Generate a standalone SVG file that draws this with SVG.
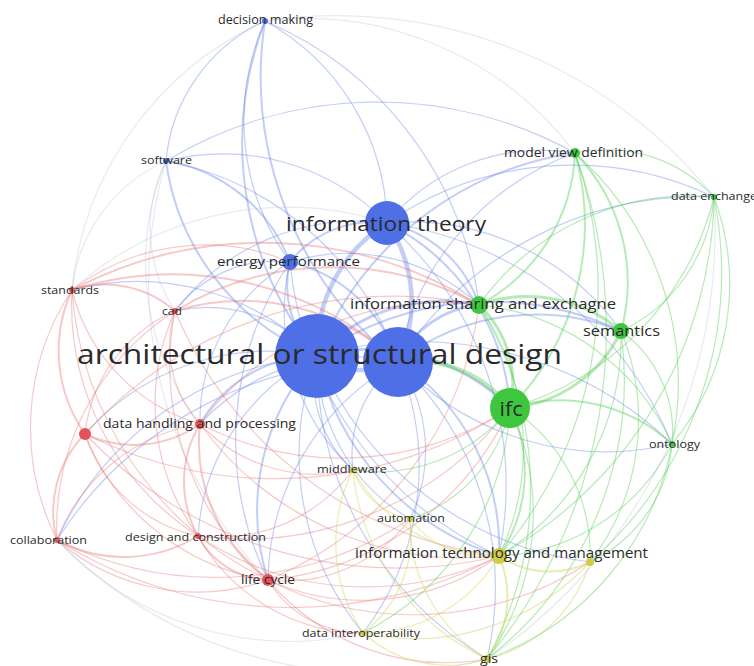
<svg xmlns="http://www.w3.org/2000/svg" width="754" height="666" viewBox="0 0 754 666">
<style>
.e path{fill:none;stroke-width:1.2;stroke-linecap:round}
.b{stroke:#5f7de6;stroke-opacity:.38}
.r{stroke:#e56a6a;stroke-opacity:.36}
.g{stroke:#4ccb4c;stroke-opacity:.4}
.y{stroke:#cfd45a;stroke-opacity:.45}
.f{stroke:#aab3cc;stroke-opacity:.28}
.t2{stroke-width:2!important}
.t3{stroke-width:3!important}
.t4{stroke-width:4.5!important}
text{font-family:"Open Sans","Noto Sans","Liberation Sans",sans-serif;fill:#2a2a2a;text-anchor:middle}
.nb{fill:#4e6fe6}
.nr{fill:#e2545a}
.ng{fill:#3ec63e}
.ny{fill:#cfcc45}
</style>
<rect width="754" height="666" fill="#ffffff"/>
<g id="connectors" class="e">
<path class="b" d="M265 21 A171 171 0 0 0 166 161"/>
<path class="b" d="M265 21 A236 236 0 0 1 387 223"/>
<path class="b t2" d="M265 21 A340 340 0 0 0 317 356"/>
<path class="b t2" d="M265 21 A366 366 0 0 0 398 362"/>
<path class="b" d="M265 21 A242 242 0 0 0 290 262"/>
<path class="f" d="M265 21 A337 337 0 0 1 575 153"/>
<path class="f" d="M265 21 A331 331 0 0 0 72 290"/>
<path class="b" d="M265 21 A356 356 0 0 1 479 305"/>
<path class="f" d="M265 21 A482 482 0 0 1 714 197"/>
<path class="b" d="M166 161 A230 230 0 0 1 387 223"/>
<path class="b t2" d="M166 161 A160 160 0 0 1 290 262"/>
<path class="b t2" d="M166 161 A247 247 0 0 0 317 356"/>
<path class="b" d="M166 161 A307 307 0 0 1 398 362"/>
<path class="f" d="M166 161 A160 160 0 0 0 72 290"/>
<path class="f" d="M166 161 A150 150 0 0 0 175 311"/>
<path class="f" d="M166 161 A265 265 0 0 0 200 424"/>
<path class="b" d="M166 161 A409 409 0 0 1 575 153"/>
<path class="f" d="M166 161 A431 431 0 0 0 268 580"/>
<path class="b t2" d="M387 223 A105 105 0 0 0 290 262"/>
<path class="b t4" d="M387 223 A150 150 0 0 0 317 356"/>
<path class="b t4" d="M387 223 A139 139 0 0 1 398 362"/>
<path class="b t2" d="M387 223 A123 123 0 0 1 479 305"/>
<path class="b" d="M387 223 A200 200 0 0 1 575 153"/>
<path class="b" d="M387 223 A328 328 0 0 1 714 197"/>
<path class="b" d="M387 223 A258 258 0 0 1 621 331"/>
<path class="b t2" d="M387 223 A222 222 0 0 1 510 408"/>
<path class="b" d="M387 223 A351 351 0 0 1 499 556"/>
<path class="b" d="M387 223 A361 361 0 0 1 672 444"/>
<path class="b" d="M387 223 A230 230 0 0 0 175 311"/>
<path class="f" d="M387 223 A322 322 0 0 0 72 290"/>
<path class="b t2" d="M290 262 A98 98 0 0 0 317 356"/>
<path class="b t2" d="M290 262 A147 147 0 0 1 398 362"/>
<path class="b" d="M290 262 A194 194 0 0 1 479 305"/>
<path class="b" d="M290 262 A185 185 0 0 0 200 424"/>
<path class="b" d="M290 262 A125 125 0 0 0 175 311"/>
<path class="b" d="M290 262 A319 319 0 0 0 268 580"/>
<path class="b" d="M290 262 A361 361 0 0 0 499 556"/>
<path class="b" d="M290 262 A217 217 0 0 0 353 470"/>
<path class="b t4" d="M317 356 A81 81 0 0 0 398 362"/>
<path class="b t3" d="M317 356 A170 170 0 0 1 479 305"/>
<path class="b t3" d="M317 356 A200 200 0 0 1 510 408"/>
<path class="b t2" d="M317 356 A305 305 0 0 1 621 331"/>
<path class="b t2" d="M317 356 A328 328 0 0 1 575 153"/>
<path class="b t2" d="M317 356 A135 135 0 0 0 200 424"/>
<path class="b" d="M317 356 A149 149 0 0 0 175 311"/>
<path class="b" d="M317 356 A254 254 0 0 0 72 290"/>
<path class="b" d="M317 356 A245 245 0 0 0 85 434"/>
<path class="b" d="M317 356 A318 318 0 0 0 57 540"/>
<path class="b" d="M317 356 A216 216 0 0 0 198 536"/>
<path class="b t2" d="M317 356 A229 229 0 0 0 268 580"/>
<path class="b" d="M317 356 A120 120 0 0 0 353 470"/>
<path class="b" d="M317 356 A188 188 0 0 0 410 519"/>
<path class="b t2" d="M317 356 A270 270 0 0 0 499 556"/>
<path class="b" d="M317 356 A347 347 0 0 0 487 659"/>
<path class="b" d="M317 356 A281 281 0 0 0 363 633"/>
<path class="b" d="M317 356 A366 366 0 0 1 672 444"/>
<path class="b" d="M317 356 A342 342 0 0 0 590 562"/>
<path class="b t3" d="M398 362 A99 99 0 0 1 479 305"/>
<path class="g t4" d="M398 362 A121 121 0 0 1 510 408"/>
<path class="b t2" d="M398 362 A225 225 0 0 1 621 331"/>
<path class="b t2" d="M398 362 A219 219 0 0 1 499 556"/>
<path class="b" d="M398 362 A310 310 0 0 1 487 659"/>
<path class="b" d="M398 362 A254 254 0 0 0 268 580"/>
<path class="b" d="M398 362 A117 117 0 0 0 353 470"/>
<path class="b" d="M398 362 A157 157 0 0 1 410 519"/>
<path class="b" d="M398 362 A286 286 0 0 0 672 444"/>
<path class="b" d="M398 362 A207 207 0 0 0 200 424"/>
<path class="b" d="M398 362 A274 274 0 0 1 575 153"/>
<path class="b" d="M398 362 A356 356 0 0 1 714 197"/>
<path class="b" d="M398 362 A273 273 0 0 1 363 633"/>
<path class="b" d="M398 362 A385 385 0 0 0 57 540"/>
<path class="r t2" d="M72 290 A105 105 0 0 1 175 311"/>
<path class="r t2" d="M72 290 A145 145 0 0 0 85 434"/>
<path class="r" d="M72 290 A185 185 0 0 0 200 424"/>
<path class="r" d="M72 290 A250 250 0 0 0 57 540"/>
<path class="r" d="M72 290 A276 276 0 0 0 198 536"/>
<path class="r" d="M72 290 A350 350 0 0 0 268 580"/>
<path class="r t2" d="M72 290 A407 407 0 0 1 479 305"/>
<path class="r t2" d="M72 290 A334 334 0 0 1 398 362"/>
<path class="r" d="M72 290 A220 220 0 0 1 290 262"/>
<path class="r" d="M175 311 A116 116 0 0 0 200 424"/>
<path class="r" d="M175 311 A152 152 0 0 0 85 434"/>
<path class="r t2" d="M175 311 A304 304 0 0 1 479 305"/>
<path class="r t2" d="M175 311 A229 229 0 0 1 398 362"/>
<path class="r" d="M175 311 A226 226 0 0 0 198 536"/>
<path class="r" d="M175 311 A285 285 0 0 0 268 580"/>
<path class="r" d="M175 311 A258 258 0 0 0 57 540"/>
<path class="r" d="M175 311 A406 406 0 0 0 499 556"/>
<path class="r t2" d="M200 424 A115 115 0 0 1 85 434"/>
<path class="r" d="M200 424 A184 184 0 0 0 57 540"/>
<path class="r t2" d="M200 424 A112 112 0 0 0 198 536"/>
<path class="r t2" d="M200 424 A170 170 0 0 0 268 580"/>
<path class="r" d="M200 424 A327 327 0 0 0 499 556"/>
<path class="r" d="M200 424 A310 310 0 0 0 510 408"/>
<path class="r" d="M200 424 A303 303 0 0 1 479 305"/>
<path class="r" d="M200 424 A160 160 0 0 0 353 470"/>
<path class="r t2" d="M85 434 A110 110 0 0 0 57 540"/>
<path class="r" d="M85 434 A152 152 0 0 0 198 536"/>
<path class="r" d="M85 434 A234 234 0 0 0 268 580"/>
<path class="r" d="M85 434 A432 432 0 0 0 499 556"/>
<path class="r" d="M85 434 A415 415 0 0 1 479 305"/>
<path class="r" d="M85 434 A426 426 0 0 0 510 408"/>
<path class="r t2" d="M57 540 A141 141 0 0 0 198 536"/>
<path class="r" d="M57 540 A215 215 0 0 0 268 580"/>
<path class="f" d="M57 540 A320 320 0 0 0 363 633"/>
<path class="f" d="M57 540 A446 446 0 0 0 487 659"/>
<path class="r" d="M57 540 A442 442 0 0 0 499 556"/>
<path class="r" d="M57 540 A354 354 0 0 0 410 519"/>
<path class="r t2" d="M198 536 A83 83 0 0 0 268 580"/>
<path class="r" d="M198 536 A302 302 0 0 0 499 556"/>
<path class="r" d="M198 536 A337 337 0 0 0 510 408"/>
<path class="r" d="M198 536 A191 191 0 0 0 363 633"/>
<path class="r" d="M198 536 A168 168 0 0 0 353 470"/>
<path class="r" d="M268 580 A109 109 0 0 0 363 633"/>
<path class="r" d="M268 580 A233 233 0 0 0 487 659"/>
<path class="r" d="M268 580 A232 232 0 0 0 499 556"/>
<path class="r" d="M268 580 A297 297 0 0 0 510 408"/>
<path class="r" d="M268 580 A347 347 0 0 0 479 305"/>
<path class="r" d="M268 580 A322 322 0 0 0 590 562"/>
<path class="r" d="M268 580 A155 155 0 0 0 410 519"/>
<path class="g t3" d="M479 305 A144 144 0 0 1 621 331"/>
<path class="g t2" d="M479 305 A180 180 0 0 0 575 153"/>
<path class="g" d="M479 305 A259 259 0 0 1 714 197"/>
<path class="g t3" d="M479 305 A108 108 0 0 1 510 408"/>
<path class="g" d="M479 305 A238 238 0 0 1 672 444"/>
<path class="g" d="M479 305 A252 252 0 0 1 499 556"/>
<path class="g" d="M479 305 A354 354 0 0 1 487 659"/>
<path class="g t2" d="M621 331 A184 184 0 0 0 575 153"/>
<path class="g" d="M621 331 A163 163 0 0 0 714 197"/>
<path class="g t3" d="M621 331 A135 135 0 0 1 510 408"/>
<path class="g" d="M621 331 A124 124 0 0 1 672 444"/>
<path class="g" d="M621 331 A256 256 0 0 1 499 556"/>
<path class="g" d="M621 331 A354 354 0 0 1 487 659"/>
<path class="g" d="M621 331 A233 233 0 0 1 590 562"/>
<path class="g" d="M575 153 A146 146 0 0 1 714 197"/>
<path class="g t2" d="M575 153 A263 263 0 0 1 510 408"/>
<path class="g" d="M575 153 A307 307 0 0 1 672 444"/>
<path class="g" d="M575 153 A410 410 0 0 1 499 556"/>
<path class="g" d="M575 153 A514 514 0 0 1 487 659"/>
<path class="g" d="M714 197 A293 293 0 0 1 510 408"/>
<path class="g" d="M714 197 A251 251 0 0 1 672 444"/>
<path class="g" d="M714 197 A418 418 0 0 1 499 556"/>
<path class="g" d="M714 197 A385 385 0 0 1 590 562"/>
<path class="f" d="M714 197 A515 515 0 0 1 487 659"/>
<path class="g t2" d="M510 408 A166 166 0 0 1 672 444"/>
<path class="g t2" d="M510 408 A148 148 0 0 1 499 556"/>
<path class="g" d="M510 408 A252 252 0 0 1 487 659"/>
<path class="g" d="M510 408 A269 269 0 0 1 363 633"/>
<path class="g" d="M510 408 A174 174 0 0 1 590 562"/>
<path class="g" d="M510 408 A149 149 0 0 1 410 519"/>
<path class="g" d="M510 408 A169 169 0 0 1 353 470"/>
<path class="g" d="M672 444 A206 206 0 0 1 499 556"/>
<path class="g" d="M672 444 A144 144 0 0 1 590 562"/>
<path class="g" d="M672 444 A284 284 0 0 1 487 659"/>
<path class="y" d="M353 470 A75 75 0 0 0 410 519"/>
<path class="y" d="M353 470 A169 169 0 0 0 499 556"/>
<path class="y" d="M353 470 A232 232 0 0 0 487 659"/>
<path class="y" d="M353 470 A163 163 0 0 0 363 633"/>
<path class="y" d="M410 519 A96 96 0 0 0 499 556"/>
<path class="y" d="M410 519 A160 160 0 0 0 487 659"/>
<path class="y" d="M410 519 A123 123 0 0 1 363 633"/>
<path class="y t2" d="M499 556 A91 91 0 0 0 590 562"/>
<path class="y t2" d="M499 556 A104 104 0 0 1 487 659"/>
<path class="y" d="M499 556 A156 156 0 0 1 363 633"/>
<path class="y" d="M590 562 A141 141 0 0 1 487 659"/>
<path class="y" d="M590 562 A238 238 0 0 1 363 633"/>
<path class="y" d="M363 633 A127 127 0 0 0 487 659"/>
</g>
<g id="node-decision-making"><circle class="nb" cx="265" cy="21" r="3"/><text x="265.5" y="24" font-size="12" textLength="95" lengthAdjust="spacingAndGlyphs">decision making</text></g>
<g id="node-software"><circle class="nb" cx="166" cy="161" r="3"/><text x="166.5" y="164" font-size="11" textLength="51" lengthAdjust="spacingAndGlyphs">software</text></g>
<g id="node-information-theory"><circle class="nb" cx="387" cy="223" r="22"/><text x="386" y="231" font-size="20" textLength="200" lengthAdjust="spacingAndGlyphs">information theory</text></g>
<g id="node-energy-performance"><circle class="nb" cx="290" cy="262" r="8"/><text x="288.5" y="266" font-size="13" textLength="143" lengthAdjust="spacingAndGlyphs">energy performance</text></g>
<g id="node-structural-design"><circle class="nb" cx="398" cy="362" r="35"/></g>
<g id="node-architectural-or-structural-design"><circle class="nb" cx="317" cy="356" r="42"/><text x="319.5" y="364" font-size="28" textLength="485" lengthAdjust="spacingAndGlyphs">architectural or structural design</text></g>
<g id="node-standards"><circle class="nr" cx="72" cy="290" r="3"/><text x="70" y="294" font-size="11" textLength="58" lengthAdjust="spacingAndGlyphs">standards</text></g>
<g id="node-cad"><circle class="nr" cx="175" cy="311" r="3"/><text x="172" y="315" font-size="11" textLength="20" lengthAdjust="spacingAndGlyphs">cad</text></g>
<g id="node-data-handling-and-processing"><circle class="nr" cx="200" cy="424" r="5"/><text x="199.5" y="428" font-size="13" textLength="193" lengthAdjust="spacingAndGlyphs">data handling and processing</text></g>
<g id="node-red"><circle class="nr" cx="85" cy="434" r="6"/></g>
<g id="node-collaboration"><circle class="nr" cx="57" cy="540" r="3"/><text x="48.5" y="544" font-size="11.5" textLength="77" lengthAdjust="spacingAndGlyphs">collaboration</text></g>
<g id="node-design-and-construction"><circle class="nr" cx="198" cy="536" r="3"/><text x="195.5" y="541" font-size="11.5" textLength="141" lengthAdjust="spacingAndGlyphs">design and construction</text></g>
<g id="node-life-cycle"><circle class="nr" cx="268" cy="580" r="6"/><text x="268" y="584" font-size="12.5" textLength="54" lengthAdjust="spacingAndGlyphs">life cycle</text></g>
<g id="node-information-sharing-and-exchagne"><circle class="ng" cx="479" cy="305" r="9"/><text x="483" y="309" font-size="14" textLength="266" lengthAdjust="spacingAndGlyphs">information sharing and exchagne</text></g>
<g id="node-semantics"><circle class="ng" cx="621" cy="331" r="8"/><text x="621.5" y="336" font-size="14" textLength="77" lengthAdjust="spacingAndGlyphs">semantics</text></g>
<g id="node-model-view-definition"><circle class="ng" cx="575" cy="153" r="5"/><text x="573.5" y="157" font-size="12" textLength="139" lengthAdjust="spacingAndGlyphs">model view definition</text></g>
<g id="node-data-enchange"><circle class="ng" cx="714" cy="197" r="3"/><text x="714" y="200" font-size="11.5" textLength="86" lengthAdjust="spacingAndGlyphs">data enchange</text></g>
<g id="node-ifc"><circle class="ng" cx="510" cy="408" r="20"/><text x="511" y="416" font-size="20" textLength="23" lengthAdjust="spacingAndGlyphs">ifc</text></g>
<g id="node-ontology"><circle class="ng" cx="672" cy="444" r="3"/><text x="674.5" y="448" font-size="11" textLength="51" lengthAdjust="spacingAndGlyphs">ontology</text></g>
<g id="node-middleware"><circle class="ny" cx="353" cy="470" r="3"/><text x="352" y="473" font-size="11.5" textLength="70" lengthAdjust="spacingAndGlyphs">middleware</text></g>
<g id="node-automation"><circle class="ny" cx="410" cy="519" r="3"/><text x="411" y="522" font-size="11.5" textLength="68" lengthAdjust="spacingAndGlyphs">automation</text></g>
<g id="node-information-technology-and-management"><circle class="ny" cx="499" cy="556" r="8"/><text x="501.5" y="558" font-size="14" textLength="293" lengthAdjust="spacingAndGlyphs">information technology and management</text></g>
<g id="node-yellow"><circle class="ny" cx="590" cy="562" r="4"/></g>
<g id="node-data-interoperability"><circle class="ny" cx="363" cy="633" r="3"/><text x="361" y="637" font-size="11.5" textLength="118" lengthAdjust="spacingAndGlyphs">data interoperability</text></g>
<g id="node-gis"><circle class="ny" cx="487" cy="659" r="4"/><text x="489" y="663" font-size="12" textLength="18" lengthAdjust="spacingAndGlyphs">gis</text></g>
</svg>
